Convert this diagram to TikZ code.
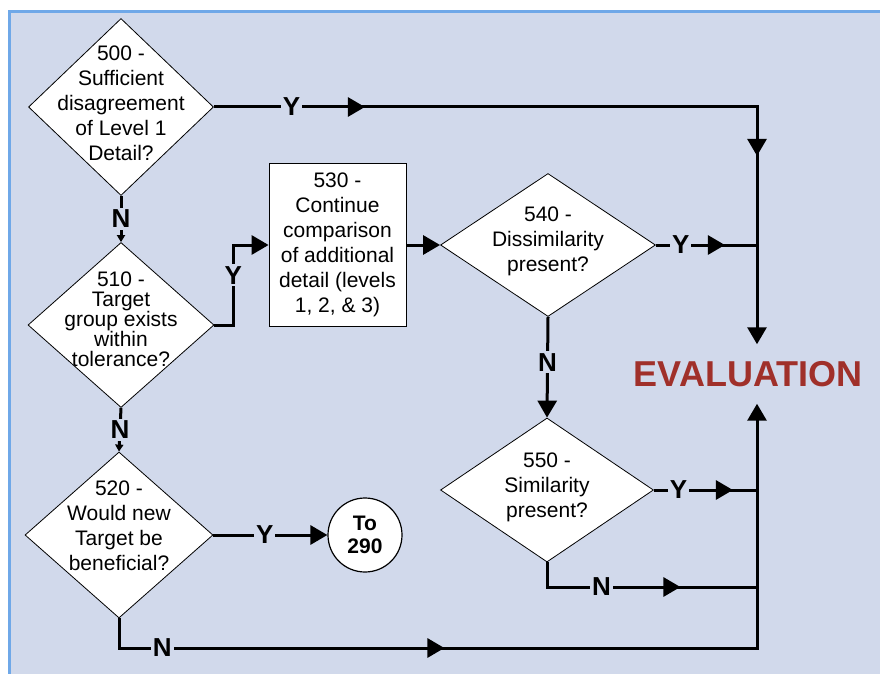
\documentclass[tikz,border=0pt]{standalone}
\usepackage{fontspec}
\setmainfont{Liberation Sans}
\usetikzlibrary{shapes.geometric,arrows.meta,decorations.markings}
\definecolor{bgblue}{RGB}{209,217,235}
\definecolor{frameblue}{RGB}{111,168,232}
\definecolor{evalred}{RGB}{160,48,42}
\begin{document}
\begin{tikzpicture}[x=1pt, y=-1pt, line width=3pt, >={Triangle[length=17pt,width=19pt]},
 dia/.style={diamond, draw, fill=white, line width=0.8pt, inner sep=0pt},
 txt/.style={align=center, font=\fontsize{21}{25}\selectfont},
 yn/.style={fill=bgblue, inner sep=2pt, font=\fontsize{26}{26}\selectfont\bfseries},
 mid/.style={postaction={decorate}, decoration={markings, mark=at position #1 with {\arrow{>}}}}]
\useasboundingbox (0,0) rectangle (880,674);
% nền và khung
\fill[bgblue] (9,11) rectangle (880,674);
\draw[frameblue] (9.5,674) -- (9.5,11.5) -- (880,11.5);
% các ô quyết định
\node[dia, minimum width=185pt, minimum height=177pt] (d500) at (121,107) {};
\node[txt] (t500) at (121,103) {500 -\\Sufficient\\disagreement\\of Level 1\\Detail?};
\node[dia, minimum width=186pt, minimum height=165pt] (d510) at (121,325) {};
\node[txt, font=\fontsize{21}{20}\selectfont] (t510) at (121,319) {510 -\\Target\\group exists\\within\\tolerance?};
\node[dia, minimum width=188pt, minimum height=166pt] (d520) at (119,535) {};
\node[txt] (t520) at (119,526) {520 -\\Would new\\Target be\\beneficial?};
\node[txt, draw, fill=white, line width=0.8pt, minimum width=137pt, minimum height=163pt] (b530) at (337.5,245) {530 -\\Continue\\comparison\\of additional\\detail (levels\\1, 2, \& 3)};
\node[dia, minimum width=215pt, minimum height=143pt] (d540) at (548,245) {};
\node[txt] (t540) at (548,241) {540 -\\Dissimilarity\\present?};
\node[dia, minimum width=213pt, minimum height=144pt] (d550) at (547,490) {};
\node[txt] (t550) at (547,487) {550 -\\Similarity\\present?};
\node[circle, draw, fill=white, line width=1.2pt, minimum size=74pt, inner sep=0pt, align=center, font=\fontsize{21}{23}\selectfont\bfseries] (c290) at (365,535) {To\\290};
\node[text=evalred, inner xsep=0pt, inner ysep=15.5pt, font=\fontsize{36}{36}\selectfont\bfseries] (eval) at (748,374) {EVALUATION};
% các góc của trục bên phải
\coordinate (c1) at (757,107);
\coordinate (c2) at (757,648);
\coordinate (c3) at (757,587);
% nhánh Y về EVALUATION
\draw[->, postaction={decorate}, decoration={markings, mark=at position 151pt with {\arrow{>}}, mark=at position 592pt with {\arrow{>}}}]
 (d500.east) -- node[yn, pos=0.143] (y500) {Y} (c1) -- (eval.north -| c1);
\draw[mid=69pt] (d540.east) -- node[yn, pos=0.245] (y540) {Y} (d540.east -| c1);
\draw[mid=79pt] (d550.east) -- node[yn, pos=0.24] (y550) {Y} (d550.east -| c1);
\draw[mid=158pt] (d550.south) |- node[yn, pos=0.63] (n550) {N} (c3);
\draw[->, mid=355pt] (d520.south) |- node[yn, pos=0.534] (n520) {N} (c2) -- (eval.south -| c2);
% các nhánh bên trái
\draw[-{Triangle[length=7pt,width=8pt]}] (d500.south) -- node[yn] (n500) {N} (d510.north);
\draw[-{Triangle[length=7pt,width=8pt]}] (d510.south) -- node[yn] (n510) {N} (d520.north);
\draw[->] (d510.east) -- ++(19,0) |- node[yn, pos=0.31] (y510) {Y} (b530.west);
\draw[->] (b530.east) -- (d540.west);
\draw[->] (d540.south) -- node[yn, pos=0.45] (n540) {N} (d550.north);
\draw[->] (d520.east) -- node[yn, pos=0.45] (y520) {Y} (c290.west);
\end{tikzpicture}
\end{document}
